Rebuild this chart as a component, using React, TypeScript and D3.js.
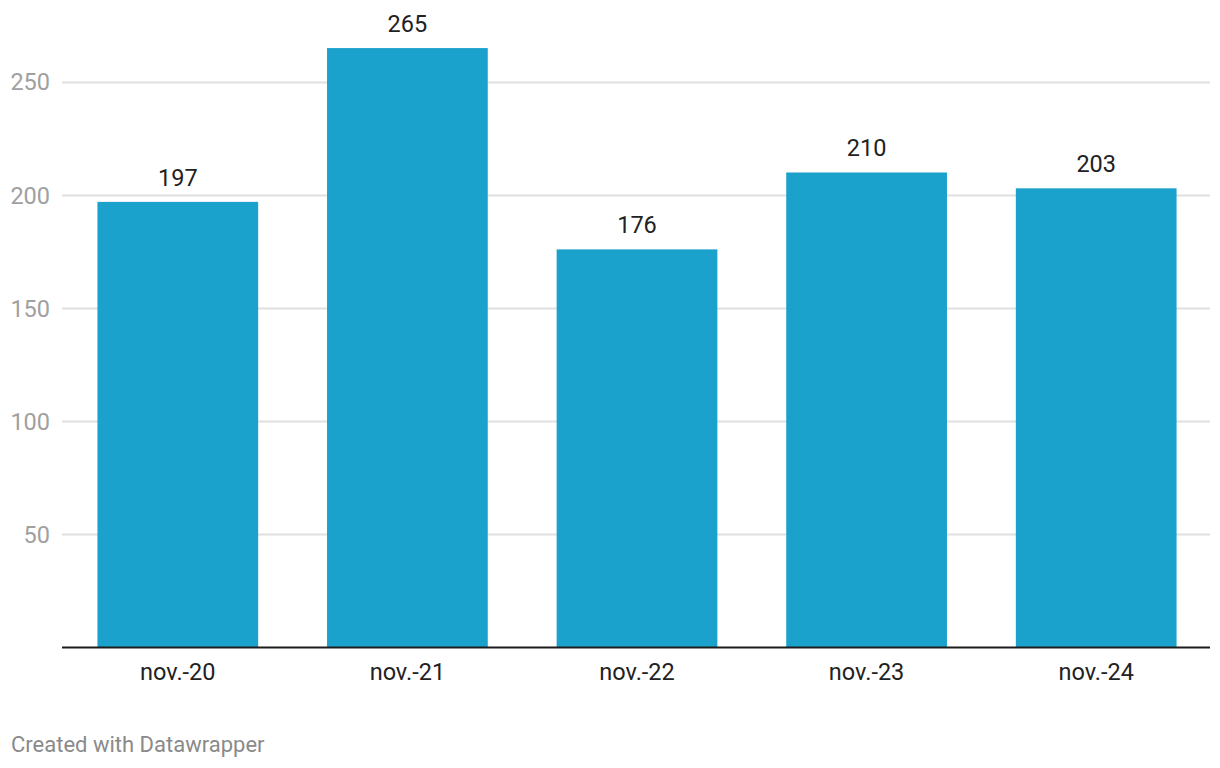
import React from "react";
import * as d3 from "d3";

const categories = ["nov.-20", "nov.-21", "nov.-22", "nov.-23", "nov.-24"];
const values = [197, 265, 176, 210, 203];
const yTicks = [50, 100, 150, 200, 250];
const footer = "Created with Datawrapper";

const W = 1220;
const H = 768;
const left = 62;
const right = 1210;
const baseY = 647.5;

export default function App() {
  const x = d3.scaleBand<string>().domain(categories).range([left + 1, right + 1]).paddingInner(0.3).paddingOuter(0.15);
  const y = d3.scaleLinear().domain([0, 250]).range([baseY, baseY - 250 * 2.262]);
  const font = "Roboto, 'Noto Sans', sans-serif";
  return (
    <svg width={W} height={H} style={{ position: "absolute", left: 0, top: 0, background: "#fff" }} fontFamily={font}>
      <rect x={0} y={0} width={W} height={H} fill="#fff" />
      {yTicks.map((t) => (
        <g key={t}>
          <line x1={left} x2={right} y1={Math.round(y(t)) + 0.5} y2={Math.round(y(t)) + 0.5} stroke="#e0e0e0" strokeWidth={2} />
          <text x={50} y={y(t)} dy="0.36em" textAnchor="end" fontSize={23.5} fill="#a0a0a0">
            {t}
          </text>
        </g>
      ))}
      {categories.map((c, i) => (
        <g key={c}>
          <rect x={x(c)} y={y(values[i])} width={x.bandwidth()} height={baseY - y(values[i])} fill="#1aa1cc" />
          <text x={(x(c) as number) + x.bandwidth() / 2} y={y(values[i]) - 16} textAnchor="middle" fontSize={23.5} fill="#222">
            {values[i]}
          </text>
          <text x={(x(c) as number) + x.bandwidth() / 2} y={680} textAnchor="middle" fontSize={23.5} fill="#222">
            {c}
          </text>
        </g>
      ))}
      <line x1={left} x2={right} y1={baseY} y2={baseY} stroke="#1d1d1d" strokeWidth={2} />
      <text x={11} y={752} fontSize={22} fill="#8a8a8a">
        {footer}
      </text>
    </svg>
  );
}
